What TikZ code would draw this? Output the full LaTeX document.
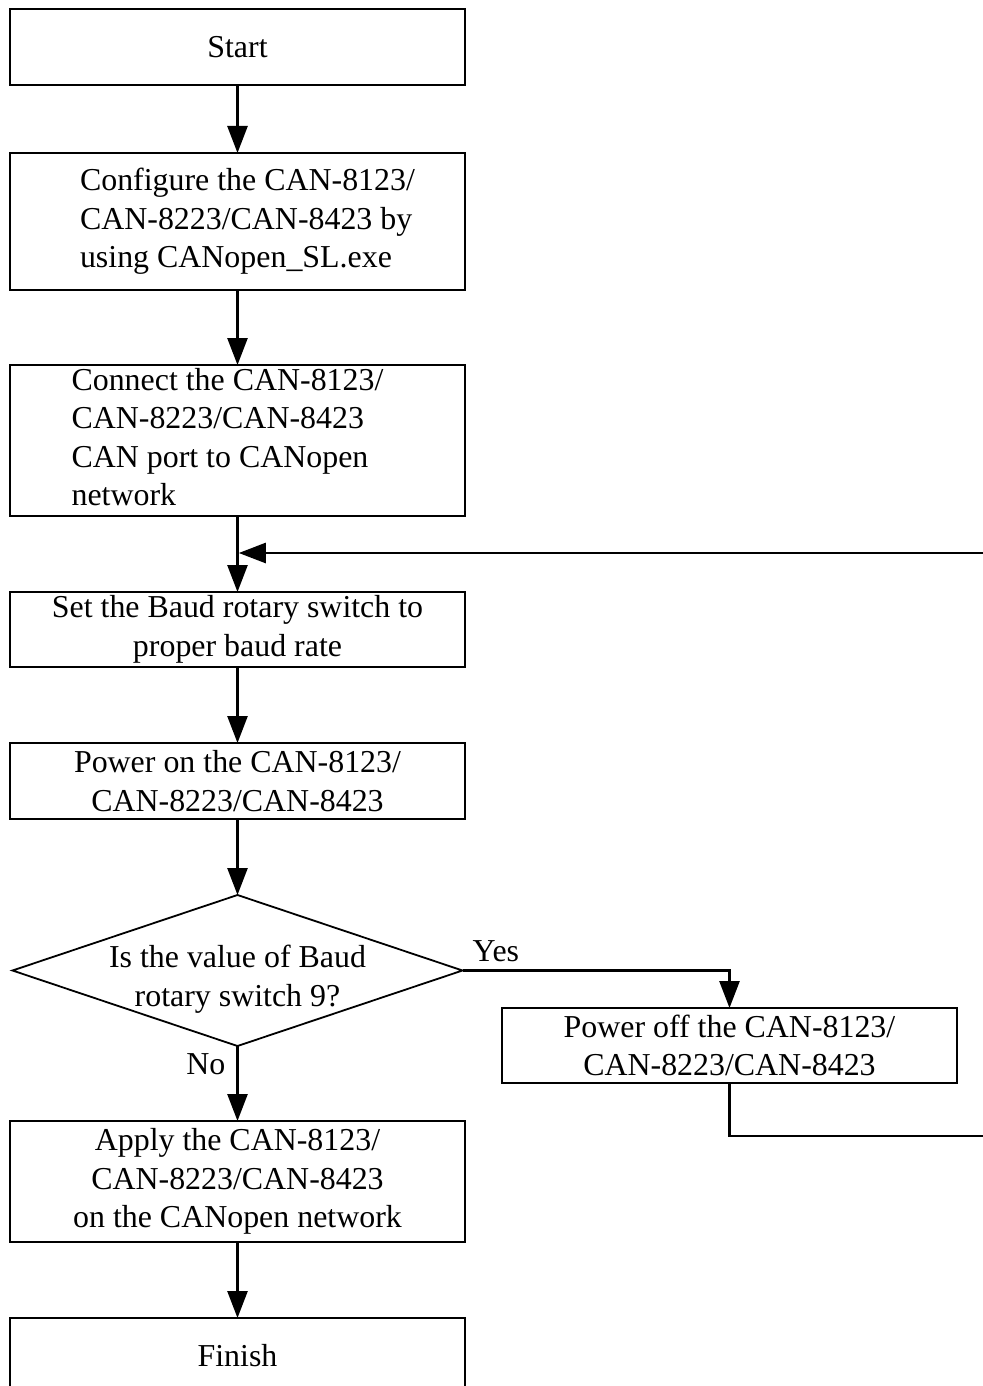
\documentclass[tikz,border=0pt]{standalone}
\usepackage{fontspec}
\setmainfont{Liberation Serif}
\usetikzlibrary{arrows.meta,positioning,shapes.geometric}

\begin{document}
\begin{tikzpicture}[x=1pt,y=1pt,node distance=76pt,
    every node/.style={font=\fontsize{31.9}{38.5}\selectfont},
    stepbox/.style={draw,line width=1.8pt,minimum width=455pt,align=center,inner sep=0pt,outer sep=0pt},
    choice/.style={draw,line width=1.8pt,diamond,aspect=3,inner sep=-12pt,outer sep=0pt,minimum width=450pt,minimum height=151pt,align=center},
    flow/.style={-{Triangle[length=27pt,width=20pt]},line width=2.6pt}]
    \useasboundingbox (0,0) rectangle (982,-1386);
    \node[stepbox,minimum height=76pt] (start) at (237.5,-47) {Start};
    \node[stepbox,minimum height=137pt,align=none,below=68pt of start] (config) {\hspace*{20pt}\begin{tabular}{@{}l@{}}Configure the CAN-8123/\\CAN-8223/CAN-8423 by\\using CANopen\_SL.exe\end{tabular}};
    \node[stepbox,minimum height=151pt,align=none,inner ysep=-2pt,below=75pt of config] (connect) {\begin{tabular}{@{}l@{}}Connect the CAN-8123/\\CAN-8223/CAN-8423\\CAN port to CANopen\\network\end{tabular}\hspace*{20pt}};
    \node[stepbox,minimum height=75pt,below=of connect] (setb) {Set the Baud rotary switch to\\proper baud rate};
    \node[stepbox,minimum height=76pt,below=of setb] (pon) {Power on the CAN-8123/\\CAN-8223/CAN-8423};
    \node[choice,below=of pon] (dec) {\rule{0pt}{40pt}Is the value of Baud\\rotary switch 9?};
    \node[stepbox,minimum height=75pt] (poff) at (729.5,-1045.5) {Power off the CAN-8123/\\CAN-8223/CAN-8423};
    \node[stepbox,minimum height=121pt,below=75pt of dec] (apply) {Apply the CAN-8123/\\CAN-8223/CAN-8423\\on the CANopen network};
    \node[stepbox,minimum height=76pt,below=of apply] (finish) {Finish};
    \foreach \x/\y in {start/config,config/connect,connect/setb,setb/pon,pon/dec,dec/apply,apply/finish}{\draw[flow] (\x) -- (\y);}
    \draw[flow] (dec.east) -| (poff.north);
    \node[anchor=base west,inner sep=0pt] (yes) at ([shift={(10pt,9pt)}]dec.east) {Yes};
    \node[anchor=base east,inner sep=0pt] (no) at ([shift={(-12pt,-28pt)}]dec.south) {No};
    \coordinate (rb) at (985,-1136);
    \coordinate (rt) at (985,-553);
    \draw[flow,shorten >=1.3pt] (poff.south) |- (rb) -- (rt) -- (rt -| connect.south);
  \end{tikzpicture}
\end{document}
